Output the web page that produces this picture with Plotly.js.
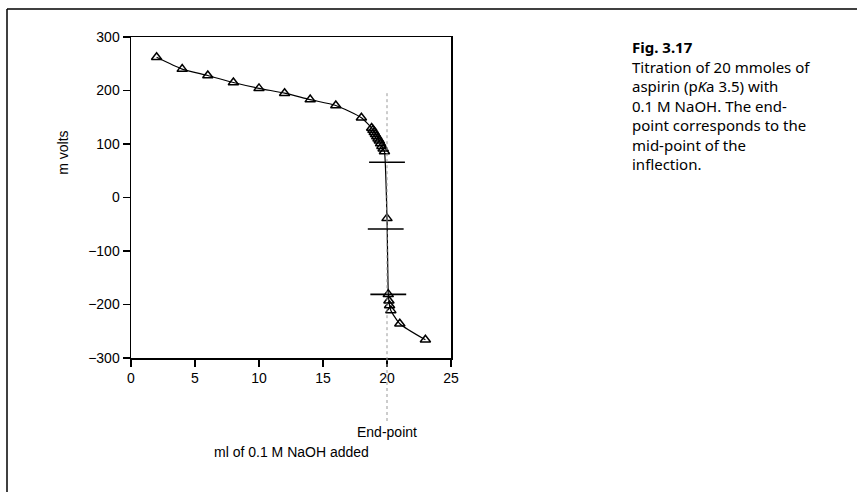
<!DOCTYPE html>
<html>
<head>
<meta charset="utf-8">
<script src="https://cdn.plot.ly/plotly-3.0.1.min.js"></script>
<style>html,body{margin:0;padding:0;background:#fff;}#chart{width:857px;height:492px;}</style>
</head>
<body>
<div id="chart"></div>
<script>
// Titration data (ml NaOH added, mV)
const volumeMl = [2, 4, 6, 8, 10, 12, 14, 16, 18, 18.8, 18.9, 19.0, 19.1, 19.2, 19.3, 19.4, 19.5, 19.6, 19.7, 19.8, 20.0, 20.1, 20.15, 20.2, 20.3, 21, 23];
const mVolts   = [262, 240, 228, 215, 204, 195, 183, 172, 149, 130, 126, 122, 118, 114, 110, 106, 101, 96, 91, 86, -39, -181, -193, -202, -211, -236, -266];

// Inflection construction lines (upper, middle, lower)
const upperX = [18.6, 21.4], upperY = [66, 66];
const midX = [18.5, 21.3], midY = [-59, -59];
const lowerX = [18.7, 21.5], lowerY = [-181, -181];

const endPointX = 20;
const endPointTopMv = 195;

const xTicks = [0, 5, 10, 15, 20, 25];
const yTicks = [-300, -200, -100, 0, 100, 200, 300];
const yTickText = ['\u2212300', '\u2212200', '\u2212100', '0', '100', '200', '300'];

const captionTitle = 'Fig. 3.17';
const captionLines = [
  'Titration of 20 mmoles of',
  'aspirin (p<i>K</i>a 3.5) with',
  '0.1 M NaOH. The end-',
  'point corresponds to the',
  'mid-point of the',
  'inflection.'
];

const axFont = {family: 'Liberation Sans, Arial, sans-serif', size: 14, color: '#000'};
const capFont = {family: 'Noto Sans, sans-serif', size: 15, color: '#000'};

const traces = [
  {x: volumeMl, y: mVolts, type: 'scatter', mode: 'lines+markers',
   line: {color: '#000', width: 1.2, shape: 'spline', smoothing: 0.6},
   marker: {symbol: 'triangle-up-open', size: 9, color: '#000', line: {width: 1.5, color: '#000'}},
   cliponaxis: false, hoverinfo: 'skip'},
  {x: upperX, y: upperY, type: 'scatter', mode: 'lines', line: {color: '#000', width: 1.6}},
  {x: midX, y: midY, type: 'scatter', mode: 'lines', line: {color: '#000', width: 1.6}},
  {x: lowerX, y: lowerY, type: 'scatter', mode: 'lines', line: {color: '#000', width: 1.6}}
];

const annotations = [
  {text: 'm volts', xref: 'paper', yref: 'paper', x: -0.215, y: 0.64, textangle: -90,
   showarrow: false, font: axFont, xanchor: 'center', yanchor: 'middle'},
  {text: 'ml of 0.1 M NaOH added', xref: 'paper', yref: 'paper', x: 0.5, y: -0.293,
   showarrow: false, font: axFont, xanchor: 'center', yanchor: 'middle'},
  {text: 'End-point', xref: 'x', yref: 'paper', x: endPointX, y: -0.232,
   showarrow: false, font: axFont, xanchor: 'center', yanchor: 'middle'},
  {text: '<b>' + captionTitle + '</b><br>' + captionLines.join('<br>'),
   xref: 'paper', yref: 'paper', x: 1.56, y: 1.007, align: 'left',
   showarrow: false, font: capFont, xanchor: 'left', yanchor: 'top'}
];

const layout = {
  width: 857, height: 492,
  margin: {l: 131, r: 406, t: 37, b: 134},
  paper_bgcolor: '#fff', plot_bgcolor: '#fff',
  showlegend: false,
  font: axFont,
  xaxis: {range: [0, 25], tickvals: xTicks, ticktext: xTicks.map(String),
    showgrid: false, zeroline: false, showline: true, linecolor: '#000', linewidth: 1.5,
    mirror: true, ticks: 'outside', ticklen: 7, tickwidth: 1.5, tickcolor: '#000', tickfont: axFont},
  yaxis: {range: [-300, 300], tickvals: yTicks, ticktext: yTickText,
    showgrid: false, zeroline: false, showline: true, linecolor: '#000', linewidth: 1.5,
    mirror: true, ticks: 'outside', ticklen: 7, tickwidth: 1.5, tickcolor: '#000', tickfont: axFont},
  shapes: [
    {type: 'line', xref: 'x', yref: 'y', x0: endPointX, x1: endPointX, y0: endPointTopMv, y1: -300,
     line: {color: '#999', width: 1, dash: 'dot'}},
    {type: 'line', xref: 'x', yref: 'paper', x0: endPointX, x1: endPointX, y0: 0, y1: -0.205,
     line: {color: '#999', width: 1, dash: 'dot'}},
    {type: 'line', xref: 'paper', yref: 'paper', x0: -0.3875, x1: -0.3875, y0: 1.087, y1: -0.42,
     line: {color: '#000', width: 1.5}},
    {type: 'line', xref: 'paper', yref: 'paper', x0: -0.3875, x1: 2.3, y0: 1.087, y1: 1.087,
     line: {color: '#000', width: 1.5}}
  ],
  annotations: annotations
};

Plotly.newPlot('chart', traces, layout, {displayModeBar: false, staticPlot: true});
</script>
</body>
</html>
